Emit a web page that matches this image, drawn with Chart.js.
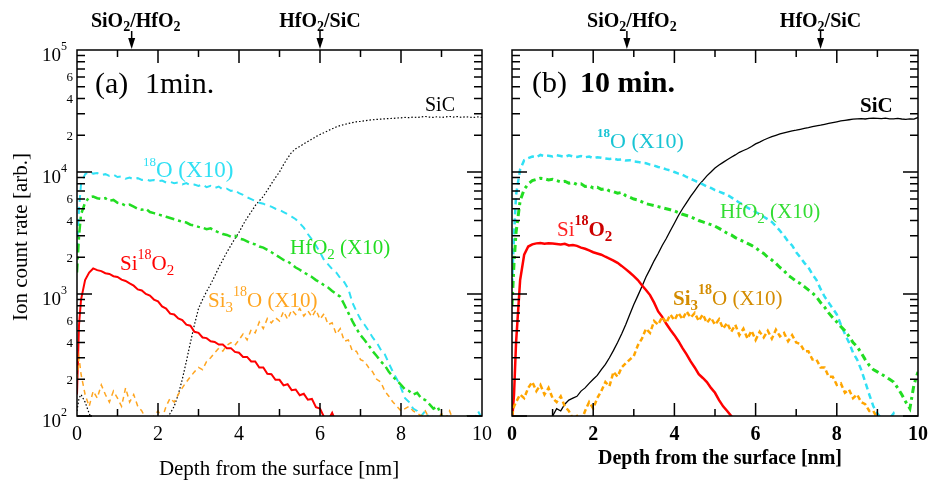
<!DOCTYPE html>
<html>
<head>
<meta charset="utf-8">
<script src="https://cdn.jsdelivr.net/npm/chart.js@4.4.0/dist/chart.umd.min.js"></script>
<style>
body{margin:0;background:#fff;}
#wrap{position:relative;width:929px;height:481px;overflow:hidden;}
canvas{position:absolute;top:0;}
#cA{left:0;}
#cB{left:495px;}
</style>
</head>
<body>
<div id="wrap">
<canvas id="cA" width="495" height="481"></canvas>
<canvas id="cB" width="434" height="481"></canvas>
</div>
<script>
// depth grid [nm], shared by every series
const depth = [0, 0.05,
  0.1, 0.2, 0.3, 0.4, 0.5, 0.6, 0.7, 0.8, 0.9, 1.0,
  1.1, 1.2, 1.3, 1.4, 1.5, 1.6, 1.7, 1.8, 1.9, 2.0,
  2.1, 2.2, 2.3, 2.4, 2.5, 2.6, 2.7, 2.8, 2.9, 3.0,
  3.1, 3.2, 3.3, 3.4, 3.5, 3.6, 3.7, 3.8, 3.9, 4.0,
  4.1, 4.2, 4.3, 4.4, 4.5, 4.6, 4.7, 4.8, 4.9, 5.0,
  5.1, 5.2, 5.3, 5.4, 5.5, 5.6, 5.7, 5.8, 5.9, 6.0,
  6.1, 6.2, 6.3, 6.4, 6.5, 6.6, 6.7, 6.8, 6.9, 7.0,
  7.1, 7.2, 7.3, 7.4, 7.5, 7.6, 7.7, 7.8, 7.9, 8.0,
  8.1, 8.2, 8.3, 8.4, 8.5, 8.6, 8.7, 8.8, 8.9, 9.0,
  9.1, 9.2, 9.3, 9.4, 9.5, 9.6, 9.7, 9.8, 9.9, 10.0];

// (a) 1 min.
const sicA = [110, 140,
  150, 130, 105, 90, null, null, null, null, null, null,
  null, null, null, null, null, null, null, null, null, null,
  90, 95, 105, 120, 150, 200, 280, 400, 560, 760,
  900, 1050, 1200, 1400, 1650, 1900, 2200, 2500, 2850, 3200,
  3700, 4200, 4700, 5300, 5800, 6300, 7100, 8000, 9000, 10000,
  11500, 13000, 14500, 15500, 16200, 17000, 17800, 18600, 19500, 20300,
  21000, 21800, 22600, 23400, 24000, 24500, 25000, 25400, 25800, 26000,
  26300, 26600, 26800, 27000, 27100, 27300, 27400, 27500, 27700, 27800,
  28000, 27900, 28200, 28000, 28300, 28500, 28200, 28000, 28400, 28000,
  28300, 28500, 28200, 28500, 28000, 28400, 28100, 28000, 28300, 28000];
const o18A = [2300, 5000,
  8000, 9600, 10000, 9700, 9800, 9400, 9600, 9300, 9500, 9100,
  9200, 8800, 9000, 8700, 8900, 8600, 8700, 8500, 8600, 8400,
  8500, 8200, 8300, 8100, 8200, 7900, 8100, 7800, 7900, 7700,
  7900, 7500, 7700, 7400, 7600, 7200, 7300, 7000, 7100, 6700,
  6500, 6200, 6000, 5800, 5600, 5500, 5300, 5200, 5000, 4900,
  4700, 4500, 4300, 4100, 3800, 3500, 3100, 2800, 2500, 2200,
  1900, 1750, 1600, 1500, 1350, 1250, 1100, 850, 720, 620,
  560, 500, 440, 400, 350, 320, 270, 230, 200, 170,
  140, 130, 115, 110, 100, 110, 95, null, null, null,
  null, null, null, null, null, null, null, 90, 110, 95];
const hfo2A = [1500, 3000,
  4500, 5600, 6200, 6300, 6100, 6000, 6100, 5800, 5900, 5600,
  5500, 5300, 5400, 5200, 5000, 4900, 5000, 4700, 4600, 4500,
  4400, 4300, 4200, 4100, 4000, 3900, 3850, 3700, 3650, 3550,
  3500, 3400, 3450, 3300, 3200, 3100, 3050, 2950, 3000, 2850,
  2800, 2700, 2600, 2550, 2450, 2400, 2300, 2200, 2100, 2000,
  1900, 1850, 1750, 1650, 1580, 1500, 1440, 1380, 1300, 1250,
  1180, 1130, 1060, 1000, 950, 820, 700, 600, 520, 460,
  420, 380, 340, 310, 280, 260, 230, 210, 195, 180,
  165, 160, 150, 155, 140, 135, 125, 115, 120, 100,
  95, 100, 90, null, null, 100, 90, null, null, null];
const sio2A = [150, 560,
  900, 1300, 1500, 1620, 1570, 1540, 1480, 1460, 1400, 1380,
  1310, 1280, 1220, 1170, 1090, 1070, 1000, 970, 900, 870,
  790, 760, 690, 680, 630, 610, 560, 550, 490, 480,
  440, 435, 410, 405, 385, 385, 360, 360, 335, 330,
  305, 305, 280, 280, 250, 250, 222, 220, 198, 198,
  178, 182, 163, 165, 148, 152, 136, 138, 118, 115,
  98, 92, 106, 88, null, null, null, null, null, null,
  null, null, null, null, null, null, null, null, null, null,
  null, null, null, null, null, null, null, null, null, null,
  null, null, null, null, null, null, null, null, null, null];
const si3oA = [200, 300,
  220, 150, 120, 160, 140, 180, 150, 130, 160, 140,
  120, 170, 130, 150, 120, 110, 95, 90, 100, 110,
  95, 120, 140, 130, 150, 170, 190, 210, 230, 250,
  240, 280, 300, 330, 360, 340, 380, 400, 380, 420,
  470, 420, 510, 480, 590, 520, 630, 580, 640, 600,
  720, 620, 740, 680, 760, 660, 730, 650, 740, 620,
  690, 560, 580, 470, 520, 410, 420, 340, 340, 290,
  280, 250, 230, 200, 190, 160, 145, 130, 120, 110,
  115, 120, 110, 105, 100, 110, 95, 100, 90, 105,
  95, 110, 90, 95, null, null, null, null, null, null];

// (b) 10 min.
const sicB = [null, null,
  null, null, null, null, null, null, null, null, 90, 100,
  115, 110, 125, 135, 140, 145, 160, 170, 185, 200,
  215, 240, 265, 300, 345, 400, 470, 560, 680, 820,
  970, 1150, 1380, 1600, 1870, 2150, 2500, 2850, 3300, 3800,
  4400, 5000, 5600, 6300, 7000, 7800, 8500, 9300, 10000, 10800,
  11400, 12000, 12600, 13200, 13800, 14500, 15000, 15500, 16200, 17000,
  17600, 18300, 18900, 19500, 20000, 20500, 20900, 21300, 21700, 22000,
  22400, 22800, 23100, 23500, 23900, 24200, 24600, 25000, 25400, 25800,
  26200, 26500, 26800, 27100, 27300, 27400, 27200, 27500, 27600, 27500,
  27400, 27600, 27300, 27300, 27500, 27200, 27000, 27300, 27100, 28000];
const o18B = [1200, 3000,
  6500, 10500, 12500, 13000, 13400, 13200, 13800, 13500, 13600, 13400,
  13700, 13500, 13300, 13700, 13400, 13300, 13500, 13200, 13400, 13000,
  13200, 13100, 12900, 12800, 12900, 12600, 12700, 12400, 12500, 12200,
  12100, 11900, 11800, 11500, 11300, 11000, 10800, 10500, 10300, 10000,
  9700, 9500, 9100, 8800, 8500, 8200, 7900, 7600, 7400, 7100,
  6900, 6700, 6500, 6200, 5900, 5600, 5400, 5100, 4900, 4700,
  4500, 4300, 4100, 3900, 3600, 3300, 3000, 2700, 2500, 2200,
  2000, 1800, 1650, 1450, 1300, 1100, 950, 850, 760, 680,
  560, 470, 400, 330, 290, 240, 190, 150, 120, 105,
  95, 90, 95, 105, 90, null, null, null, null, null];
const hfo2B = [800, 1800,
  3200, 5800, 7200, 8000, 8500, 8700, 8900, 8800, 8600, 8700,
  8500, 8300, 8400, 8100, 8200, 7900, 8000, 7600, 7700, 7400,
  7500, 7200, 7300, 7000, 6900, 6700, 6800, 6400, 6200, 6000,
  5900, 5700, 5500, 5400, 5300, 5200, 5100, 5000, 4900, 4800,
  4650, 4500, 4400, 4300, 4150, 4000, 3900, 3800, 3700, 3600,
  3450, 3300, 3150, 3050, 2900, 2800, 2700, 2600, 2500, 2400,
  2250, 2150, 2000, 1900, 1780, 1650, 1550, 1420, 1350, 1270,
  1220, 1150, 1080, 1020, 950, 850, 780, 700, 640, 590,
  540, 500, 450, 400, 370, 330, 290, 260, 240, 230,
  220, 210, 200, 190, 170, 150, 130, 115, 180, 230];
const sio2B = [90, 150,
  400, 1300, 2100, 2450, 2550, 2600, 2620, 2580, 2600, 2590,
  2570, 2550, 2580, 2500, 2520, 2480, 2400, 2350, 2280, 2200,
  2150, 2100, 2020, 1950, 1880, 1800, 1700, 1600, 1500, 1400,
  1300, 1180, 1080, 980, 850, 720, 650, 570, 510, 460,
  410, 360, 320, 280, 250, 220, 205, 190, 170, 155,
  135, 120, 110, 100, 90, null, null, null, null, null,
  null, null, null, null, null, null, null, null, null, null,
  null, null, null, null, null, null, null, null, null, null,
  null, null, null, null, null, null, null, null, null, null,
  null, null, null, null, null, null, null, null, null, null];
const si3oB = [100, 120,
  130, 150, 140, 170, 190, 160, 180, 150, 170, 140,
  130, 145, 120, 110, 95, 100, 90, 110, 130, 115,
  140, 160, 190, 175, 230, 210, 250, 270, 290, 310,
  380, 430, 520, 480, 600, 560, 650, 580, 680, 610,
  700, 620, 720, 640, 700, 600, 680, 580, 640, 560,
  620, 520, 580, 490, 560, 460, 520, 430, 500, 420,
  490, 440, 500, 430, 510, 450, 480, 410, 460, 400,
  390, 340, 340, 290, 290, 250, 250, 210, 210, 180,
  185, 155, 165, 140, 150, 130, 125, 110, 110, 95,
  null, null, null, null, null, null, null, null, null, null];

// axes
const xTicks = [1, 2, 3, 4, 5, 6, 7, 8, 9];
const xTickLabels = [0, 2, 4, 6, 8, 10];
const yDecades = [100, 1000, 10000];
const yMinorLabels = [2, 4, 6];
const interfacesA = [1.35, 6.0];
const interfacesB = [2.83, 7.6];

const serif = '"Liberation Serif", "Times New Roman", serif';
function fnt(size, bold) { return (bold ? 'bold ' : '') + size + 'px ' + serif; }

// draws text made of pieces (sub/superscripts)
function rich(ctx, x, y, parts, align, color) {
  var w = 0;
  parts.forEach(function(p) { ctx.font = fnt(p.s, p.b); w += ctx.measureText(p.t).width; });
  if (align === 'center') x -= w / 2;
  if (align === 'right') x -= w;
  ctx.textAlign = 'left';
  ctx.textBaseline = 'alphabetic';
  parts.forEach(function(p) {
    ctx.font = fnt(p.s, p.b);
    ctx.fillStyle = p.c || color || '#000';
    ctx.fillText(p.t, x, y + (p.dy || 0));
    x += ctx.measureText(p.t).width;
  });
}

function arrow(ctx, x) {
  ctx.beginPath();
  ctx.moveTo(x, 31); ctx.lineTo(x, 42);
  ctx.lineWidth = 1.5; ctx.strokeStyle = '#000';
  ctx.stroke();
  ctx.beginPath();
  ctx.moveTo(x - 3.5, 38); ctx.lineTo(x + 3.5, 38); ctx.lineTo(x, 49);
  ctx.closePath();
  ctx.fillStyle = '#000';
  ctx.fill();
}

function framePlugin(bold, withY, decor) {
  return {
    id: 'frame',
    afterDatasetsDraw: function(chart) {
      var ctx = chart.ctx, a = chart.chartArea;
      var xs = chart.scales.x, ys = chart.scales.y;
      ctx.save();
      ctx.strokeStyle = '#000';
      ctx.lineWidth = 1.5;
      ctx.strokeRect(a.left, a.top, a.right - a.left, a.bottom - a.top);
      ctx.beginPath();
      xTicks.forEach(function(t) {
        var px = xs.getPixelForValue(t);
        var len = t % 2 === 0 ? 13 : 7;
        ctx.moveTo(px, a.bottom); ctx.lineTo(px, a.bottom - len);
        ctx.moveTo(px, a.top); ctx.lineTo(px, a.top + len);
      });
      yDecades.forEach(function(d) {
        for (var m = 1; m <= 9; m++) {
          var py = ys.getPixelForValue(m * d);
          var len = m === 1 ? 15 : 8;
          ctx.moveTo(a.left, py); ctx.lineTo(a.left + len, py);
          ctx.moveTo(a.right, py); ctx.lineTo(a.right - len, py);
        }
      });
      ctx.stroke();

      // x tick labels
      ctx.fillStyle = '#000';
      ctx.font = fnt(20, bold);
      ctx.textAlign = 'center';
      ctx.textBaseline = 'middle';
      xTickLabels.forEach(function(t) {
        ctx.fillText(String(t), xs.getPixelForValue(t), 435);
      });

      if (withY) {
        yDecades.concat([100000]).forEach(function(d) {
          var py = ys.getPixelForValue(d);
          var e = String(Math.round(Math.log10(d)));
          rich(ctx, a.left - 10, py, [{t: '10', s: 19, dy: 10.5}, {t: e, s: 12, dy: 0}], 'right');
        });
        ctx.font = fnt(13, false);
        ctx.textAlign = 'right';
        ctx.textBaseline = 'middle';
        yDecades.concat([100000]).forEach(function(d) {
          yMinorLabels.forEach(function(m) {
            if (m * d > 100000) return;
            ctx.fillText(String(m), a.left - 4, ys.getPixelForValue(m * d) + 1);
          });
        });
        ctx.save();
        ctx.translate(21, 237);
        ctx.rotate(-Math.PI / 2);
        ctx.font = fnt(21, false);
        ctx.textAlign = 'center';
        ctx.textBaseline = 'middle';
        ctx.fillText('Ion count rate [arb.]', 0, 0);
        ctx.restore();
      }
      decor(ctx, xs, ys);
      ctx.restore();
    }
  };
}

function series(vals, color, width, dash) {
  return {
    data: depth.map(function(d, i) { return {x: d, y: vals[i]}; }),
    borderColor: color,
    borderWidth: width,
    borderDash: dash,
    pointRadius: 0,
    tension: 0,
    fill: false,
    clip: 0
  };
}

function baseOptions(pad) {
  return {
    responsive: false,
    animation: false,
    layout: {padding: pad},
    plugins: {legend: {display: false}, tooltip: {enabled: false}},
    scales: {
      x: {type: 'linear', min: 0, max: 10, display: false},
      y: {type: 'logarithmic', min: 100, max: 100000, display: false}
    }
  };
}

var cyanA = '#30e0f4', greenA = '#22dd22', redA = '#ff0000', orangeA = '#ffa520';

new Chart(document.getElementById('cA'), {
  type: 'line',
  data: {datasets: [
    series(si3oA, orangeA, 1.5, [5, 4]),
    series(hfo2A, greenA, 2.5, [9, 4, 3, 4]),
    series(o18A, cyanA, 2, [7, 5]),
    series(sio2A, redA, 2, []),
    series(sicA, '#000', 1.2, [1.5, 2])
  ]},
  options: baseOptions({left: 77, right: 13, top: 50, bottom: 65}),
  plugins: [framePlugin(false, true, function(ctx, xs, ys) {
    var s1 = xs.getPixelForValue(interfacesA[0]);
    var s2 = xs.getPixelForValue(interfacesA[1]);
    rich(ctx, s1 + 4, 27, [{t: 'SiO', s: 20, b: 1}, {t: '2', s: 14, b: 1, dy: 4}, {t: '/HfO', s: 20, b: 1}, {t: '2', s: 14, b: 1, dy: 4}], 'center');
    rich(ctx, s2, 27, [{t: 'HfO', s: 20, b: 1}, {t: '2', s: 14, b: 1, dy: 4}, {t: '/SiC', s: 20, b: 1}], 'center');
    arrow(ctx, s1);
    arrow(ctx, s2);
    ctx.font = fnt(30, false);
    ctx.fillStyle = '#000';
    ctx.textAlign = 'left';
    ctx.textBaseline = 'alphabetic';
    ctx.fillText('(a)', 95, 93);
    ctx.fillText('1min.', 145, 93);
    rich(ctx, 425, 111, [{t: 'SiC', s: 20}], 'left', '#000');
    rich(ctx, 143, 177, [{t: '18', s: 13, dy: -11}, {t: 'O (X10)', s: 23}], 'left', cyanA);
    rich(ctx, 290, 254, [{t: 'HfO', s: 21}, {t: '2', s: 15, dy: 5}, {t: ' (X10)', s: 21}], 'left', greenA);
    rich(ctx, 120, 270, [{t: 'Si', s: 21}, {t: '18', s: 14, dy: -11}, {t: 'O', s: 21}, {t: '2', s: 15, dy: 5}], 'left', redA);
    rich(ctx, 208, 307, [{t: 'Si', s: 21}, {t: '3', s: 15, dy: 5}, {t: '18', s: 14, dy: -11}, {t: 'O (X10)', s: 21}], 'left', orangeA);
    ctx.font = fnt(21, false);
    ctx.fillStyle = '#000';
    ctx.textAlign = 'center';
    ctx.fillText('Depth from the surface [nm]', 279, 475);
  })]
});

var cyanB = '#30e0f4', greenB = '#22dd22', redB = '#ff0000', orangeB = '#ffa500';

new Chart(document.getElementById('cB'), {
  type: 'line',
  data: {datasets: [
    series(si3oB, orangeB, 2.5, [5, 3]),
    series(hfo2B, greenB, 3, [7, 4, 3, 4]),
    series(o18B, cyanB, 2.5, [6, 4]),
    series(sio2B, redB, 2.5, []),
    series(sicB, '#000', 1.3, [])
  ]},
  options: baseOptions({left: 17, right: 11, top: 50, bottom: 65}),
  plugins: [framePlugin(true, false, function(ctx, xs, ys) {
    var s1 = xs.getPixelForValue(interfacesB[0]);
    var s2 = xs.getPixelForValue(interfacesB[1]);
    rich(ctx, s1 + 5, 27, [{t: 'SiO', s: 20, b: 1}, {t: '2', s: 14, b: 1, dy: 4}, {t: '/HfO', s: 20, b: 1}, {t: '2', s: 14, b: 1, dy: 4}], 'center');
    rich(ctx, s2, 27, [{t: 'HfO', s: 20, b: 1}, {t: '2', s: 14, b: 1, dy: 4}, {t: '/SiC', s: 20, b: 1}], 'center');
    arrow(ctx, s1);
    arrow(ctx, s2);
    ctx.fillStyle = '#000';
    ctx.textAlign = 'left';
    ctx.textBaseline = 'alphabetic';
    ctx.font = fnt(30, false);
    ctx.fillText('(b)', 532 - 495, 92);
    ctx.font = fnt(30, true);
    ctx.fillText('10 min.', 580 - 495, 92);
    rich(ctx, 860 - 495, 112, [{t: 'SiC', s: 21, b: 1}], 'left', '#000');
    rich(ctx, 597 - 495, 148, [{t: '18', s: 13, b: 1, dy: -11}, {t: 'O (X10)', s: 22}], 'left', '#18c4d4');
    rich(ctx, 720 - 495, 218, [{t: 'HfO', s: 21}, {t: '2', s: 15, dy: 5}, {t: ' (X10)', s: 21}], 'left', '#33dd33');
    rich(ctx, 557 - 495, 236, [{t: 'Si', s: 21, c: '#ff2020'}, {t: '18', s: 14, b: 1, dy: -11}, {t: 'O', s: 21, b: 1}, {t: '2', s: 15, b: 1, dy: 5}], 'left', '#cc0000');
    rich(ctx, 673 - 495, 305, [{t: 'Si', s: 21, b: 1}, {t: '3', s: 15, b: 1, dy: 5}, {t: '18', s: 14, b: 1, dy: -11}, {t: 'O (X10)', s: 21}], 'left', '#d48c00');
    ctx.font = fnt(20, true);
    ctx.fillStyle = '#000';
    ctx.textAlign = 'center';
    ctx.fillText('Depth from the surface [nm]', 720 - 495, 464);
  })]
});
</script>
</body>
</html>
